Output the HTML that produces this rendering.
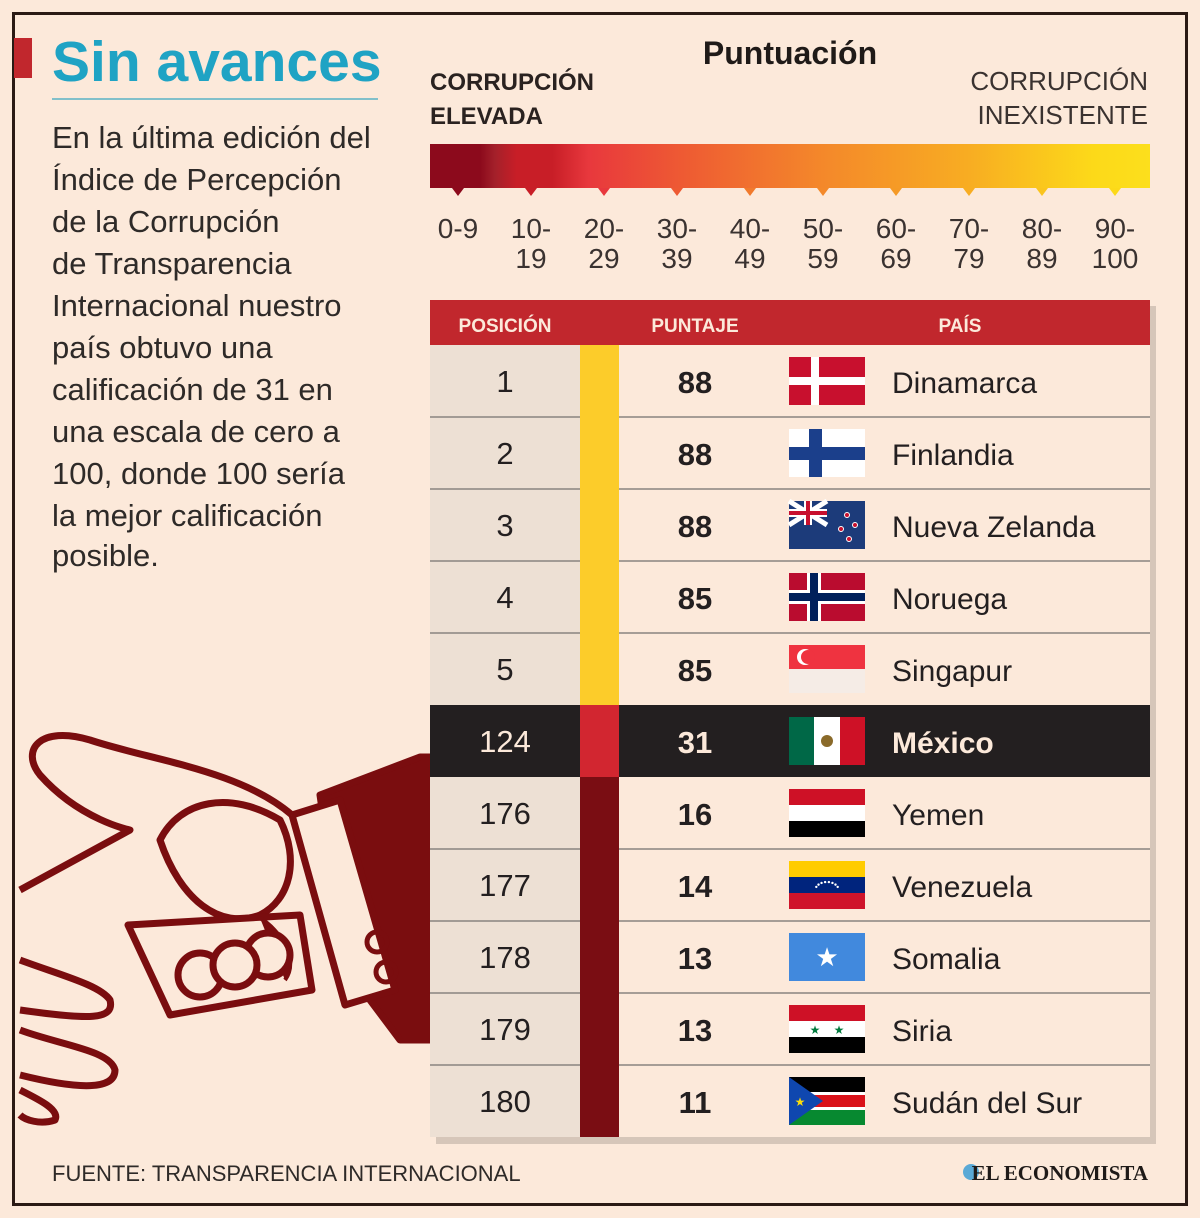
<!DOCTYPE html>
<html><head><meta charset="utf-8"><style>
html,body{margin:0;padding:0;background:#fce9da;}
svg{display:block;font-family:"Liberation Sans",sans-serif;}
</style></head><body>
<svg id="chart" width="1200" height="1218" viewBox="0 0 1200 1218">
<defs>
<linearGradient id="grad" x1="0" x2="1" y1="0" y2="0">
<stop offset="0" stop-color="#8c0a1c"/><stop offset="0.07" stop-color="#8c0a1c"/>
<stop offset="0.09" stop-color="#a3202a"/><stop offset="0.12" stop-color="#c81e27"/>
<stop offset="0.17" stop-color="#c81e27"/><stop offset="0.22" stop-color="#e8383d"/>
<stop offset="0.35" stop-color="#ee5a33"/><stop offset="0.55" stop-color="#f4892a"/>
<stop offset="0.75" stop-color="#f8ad22"/><stop offset="0.92" stop-color="#fcd919"/>
<stop offset="1" stop-color="#fcdf1c"/>
</linearGradient>
<linearGradient id="lshadow" x1="0" x2="1"><stop offset="0" stop-color="#000" stop-opacity="0"/><stop offset="1" stop-color="#000" stop-opacity="0.18"/></linearGradient>
</defs>
<rect x="0" y="0" width="1200" height="1218" fill="#fce9da"/>
<rect x="13.5" y="13.5" width="1173" height="1191" fill="none" stroke="#2a1a14" stroke-width="3"/>
<rect x="14" y="38" width="18" height="40" fill="#c1272d"/>
<text x="52" y="81" font-size="57" font-weight="bold" fill="#1fa3c4">Sin avances</text>
<line x1="52" y1="99" x2="378" y2="99" stroke="#5ab3c4" stroke-width="1.5"/>
<g font-size="31" fill="#2e2a28">
<text x="52" y="148">En la última edición del</text>
<text x="52" y="190">Índice de Percepción</text>
<text x="52" y="232">de la Corrupción</text>
<text x="52" y="274">de Transparencia</text>
<text x="52" y="316">Internacional nuestro</text>
<text x="52" y="358">país obtuvo una</text>
<text x="52" y="400">calificación de 31 en</text>
<text x="52" y="442">una escala de cero a</text>
<text x="52" y="484">100, donde 100 sería</text>
<text x="52" y="526">la mejor calificación</text>
<text x="52" y="566">posible.</text>
</g>

<!-- hand illustration -->
<g stroke="#7a0d0f" fill="#fce9da" stroke-width="7" stroke-linejoin="round">
<path d="M320 795 L420 757 L430 757 L430 1040 L400 1040 L370 1000 L335 900 Z" fill="#7a0d0f"/>
<path d="M292 815 L340 800 L395 990 L345 1005 Z" fill="#fce9da"/>
<circle cx="377" cy="942" r="10" fill="none" stroke-width="5"/>
<circle cx="386" cy="972" r="10" fill="none" stroke-width="5"/>
<path d="M292 815 C240 770 150 760 90 740 C40 725 20 750 40 775 C80 820 130 830 130 830 L20 890"/>
<path d="M160 840 C180 800 230 790 280 820 C300 860 290 900 260 915 C220 930 180 900 160 840 Z"/>
<path d="M128 925 L300 915 L312 990 L170 1015 Z"/>
<path d="M260 918 C280 930 300 960 285 980" fill="#7a0d0f" stroke-width="4"/>
<circle cx="268" cy="955" r="22"/>
<circle cx="200" cy="975" r="22"/>
<circle cx="235" cy="965" r="22"/>
<path d="M20 960 C60 975 100 985 110 1000 C115 1020 90 1020 20 1010"/>
<path d="M20 1030 C60 1045 110 1050 115 1070 C115 1090 80 1090 20 1075"/>
<path d="M20 1090 C40 1100 60 1110 55 1120 C40 1125 25 1120 20 1115"/>
</g>

<!-- scale header -->
<text x="790" y="64" font-size="32" font-weight="bold" fill="#1f1a18" text-anchor="middle">Puntuación</text>
<g font-size="24" font-weight="bold" fill="#2a2220">
<text x="430" y="90">CORRUPCIÓN</text><text x="430" y="124">ELEVADA</text></g>
<g font-size="26" fill="#3a3230" text-anchor="end">
<text x="1148" y="90">CORRUPCIÓN</text><text x="1148" y="124">INEXISTENTE</text></g>
<rect x="430" y="144" width="720" height="44" fill="url(#grad)"/>
<g id="ticks"></g>

<!-- table -->
<rect x="436" y="306" width="720" height="838" fill="#000" opacity="0.15"/>
<rect x="430" y="300" width="720" height="837" fill="#fce9da"/>
<rect x="430" y="345" width="150" height="792" fill="#ede0d4"/>
<rect x="430" y="300" width="720" height="45" fill="#c1272d"/>
<g font-size="19" font-weight="bold" fill="#fce9da" text-anchor="middle">
<text x="505" y="332">POSICIÓN</text><text x="695" y="332">PUNTAJE</text><text x="960" y="332">PAÍS</text></g>
<g id="rows"></g>

<text x="52" y="1181" font-size="22" fill="#2e2a28">FUENTE: TRANSPARENCIA INTERNACIONAL</text>
<circle cx="971" cy="1172" r="8" fill="#5aa9d6"/>
<text x="1148" y="1180" font-size="21" font-weight="bold" font-family="Liberation Serif, serif" fill="#1f1a18" text-anchor="end">EL ECONOMISTA</text>
</svg>
<script>
const positions = [1, 2, 3, 4, 5, 124, 176, 177, 178, 179, 180];
const scores = [88, 88, 88, 85, 85, 31, 16, 14, 13, 13, 11];
const countries = ["Dinamarca","Finlandia","Nueva Zelanda","Noruega","Singapur","México","Yemen","Venezuela","Somalia","Siria","Sudán del Sur"];
const flagCodes = ["dk","fi","nz","no","sg","mx","ye","ve","so","sy","ss"];
const rangeTop = ["0-9","10-","20-","30-","40-","50-","60-","70-","80-","90-"];
const rangeBottom = ["","19","29","39","49","59","69","79","89","100"];
const highlight = "México";

const NS = "http://www.w3.org/2000/svg";
function mk(tag, attrs, parent){const e=document.createElementNS(NS,tag);for(const k in attrs)e.setAttribute(k,attrs[k]);parent.appendChild(e);return e;}
const tickX0=458, tickStep=73;
function binX(i){return tickX0 + i*tickStep;}
function scoreColor(s){ if(s>=80) return "#fccc2a"; if(s>=30) return "#d22630"; return "#7a0d13"; }
const tickColors=["#8c0a1c","#c81e27","#e8383d","#ee5a33","#f17a2c","#f4892a","#f59a26","#f8ad22","#fac41e","#fcd919"];

const ticks=document.getElementById("ticks");
rangeTop.forEach((t,i)=>{
  const x=binX(i);
  const g=mk("g",{},ticks);
  
  
  mk("polygon",{points:`${x-6},188 ${x+6},188 ${x},196`,fill:tickColors[i]},g);
  const t1=mk("text",{x:x,y:238,"font-size":28,fill:"#3a3230","text-anchor":"middle"},g);t1.textContent=t;
  if(rangeBottom[i]){const t2=mk("text",{x:x,y:268,"font-size":28,fill:"#3a3230","text-anchor":"middle"},g);t2.textContent=rangeBottom[i];}
});

function flag(code,g,x,y){
  const w=76,h=48;
  const r=(a,b,c,d,f)=>mk("rect",{x:x+a,y:y+b,width:c,height:d,fill:f},g);
  switch(code){
    case "dk": r(0,0,w,h,"#c8102e"); r(22,0,8,h,"#fff"); r(0,20,w,8,"#fff"); break;
    case "fi": r(0,0,w,h,"#fff"); r(20,0,13,h,"#1b3f8b"); r(0,18,w,13,"#1b3f8b"); break;
    case "no": r(0,0,w,h,"#ba0c2f"); r(18,0,14,h,"#fff"); r(0,17,w,14,"#fff"); r(21,0,8,h,"#00205b"); r(0,20,w,8,"#00205b"); break;
    case "nz": r(0,0,w,h,"#1c3b7a");
      mk("path",{d:`M${x} ${y}L${x+38} ${y+24}M${x+38} ${y}L${x} ${y+24}`,stroke:"#fff","stroke-width":5},g);
      r(15,0,8,24,"#fff"); r(0,8,38,8,"#fff"); r(17,0,4,24,"#c8102e"); r(0,10,38,4,"#c8102e");
      [[58,14],[66,24],[52,28],[60,38]].forEach(p=>mk("circle",{cx:x+p[0],cy:y+p[1],r:2.5,fill:"#c8102e",stroke:"#fff","stroke-width":1},g)); break;
    case "sg": r(0,0,w,24,"#ef3340"); r(0,24,w,24,"#f5ece6"); mk("circle",{cx:x+16,cy:y+12,r:8,fill:"#fff"},g); mk("circle",{cx:x+19,cy:y+12,r:7,fill:"#ef3340"},g); break;
    case "mx": r(0,0,25,h,"#006847"); r(25,0,26,h,"#fff"); r(51,0,25,h,"#ce1126"); mk("circle",{cx:x+38,cy:y+24,r:6,fill:"#8a6a2a"},g); break;
    case "ye": r(0,0,w,16,"#ce1126"); r(0,16,w,16,"#fff"); r(0,32,w,16,"#000"); break;
    case "ve": r(0,0,w,16,"#ffcc00"); r(0,16,w,16,"#00247d"); r(0,32,w,16,"#cf142b");
      for(let k=0;k<8;k++){const a=Math.PI*(0.15+0.7*k/7);mk("circle",{cx:x+38-Math.cos(a)*12,cy:y+30-Math.sin(a)*9,r:1.2,fill:"#fff"},g);} break;
    case "so": r(0,0,w,h,"#4189dd"); mk("text",{x:x+38,y:y+33,"font-size":26,fill:"#fff","text-anchor":"middle"},g).textContent="★"; break;
    case "sy": r(0,0,w,16,"#ce1126"); r(0,16,w,16,"#fff"); r(0,32,w,16,"#000");
      mk("text",{x:x+26,y:y+29,"font-size":12,fill:"#007a3d","text-anchor":"middle"},g).textContent="★";
      mk("text",{x:x+50,y:y+29,"font-size":12,fill:"#007a3d","text-anchor":"middle"},g).textContent="★"; break;
    case "ss": r(0,0,w,15,"#000"); r(0,15,w,3,"#fff"); r(0,18,w,12,"#da121a"); r(0,30,w,3,"#fff"); r(0,33,w,15,"#078930");
      mk("polygon",{points:`${x},${y} ${x+34},${y+24} ${x},${y+48}`,fill:"#0f47af"},g);
      mk("text",{x:x+11,y:y+29,"font-size":12,fill:"#fcdd09","text-anchor":"middle"},g).textContent="★"; break;
  }
}

const rows=document.getElementById("rows");
const rowY0=345, rowH=72;
countries.forEach((c,i)=>{
  const y=rowY0+i*rowH;
  const hl = c===highlight;
  const g=mk("g",{},rows);
  
  
  if(hl) mk("rect",{x:430,y:y,width:720,height:rowH,fill:"#231f20"},g);
  else if(i<countries.length-1 && countries[i+1]!==highlight){
    mk("line",{x1:430,y1:y+rowH,x2:1150,y2:y+rowH,stroke:"#8a8480","stroke-width":1.5},g);
  }
  const bar=mk("rect",{x:580,y:y,width:39,height:rowH,fill:scoreColor(scores[i])},g);
  
  
  const fg=hl?"#fce9da":"#231f20";
  mk("text",{x:505,y:y+47,"font-size":31,fill:fg,"text-anchor":"middle"},g).textContent=positions[i];
  mk("text",{x:695,y:y+48,"font-size":31,"font-weight":"bold",fill:fg,"text-anchor":"middle"},g).textContent=scores[i];
  const fg2=mk("g",{},g);
  
  
  flag(flagCodes[i],fg2,789,y+12);
  mk("text",{x:892,y:y+48,"font-size":30,"font-weight":hl?"bold":"normal",fill:fg},g).textContent=c;
});
</script>
</body></html>
